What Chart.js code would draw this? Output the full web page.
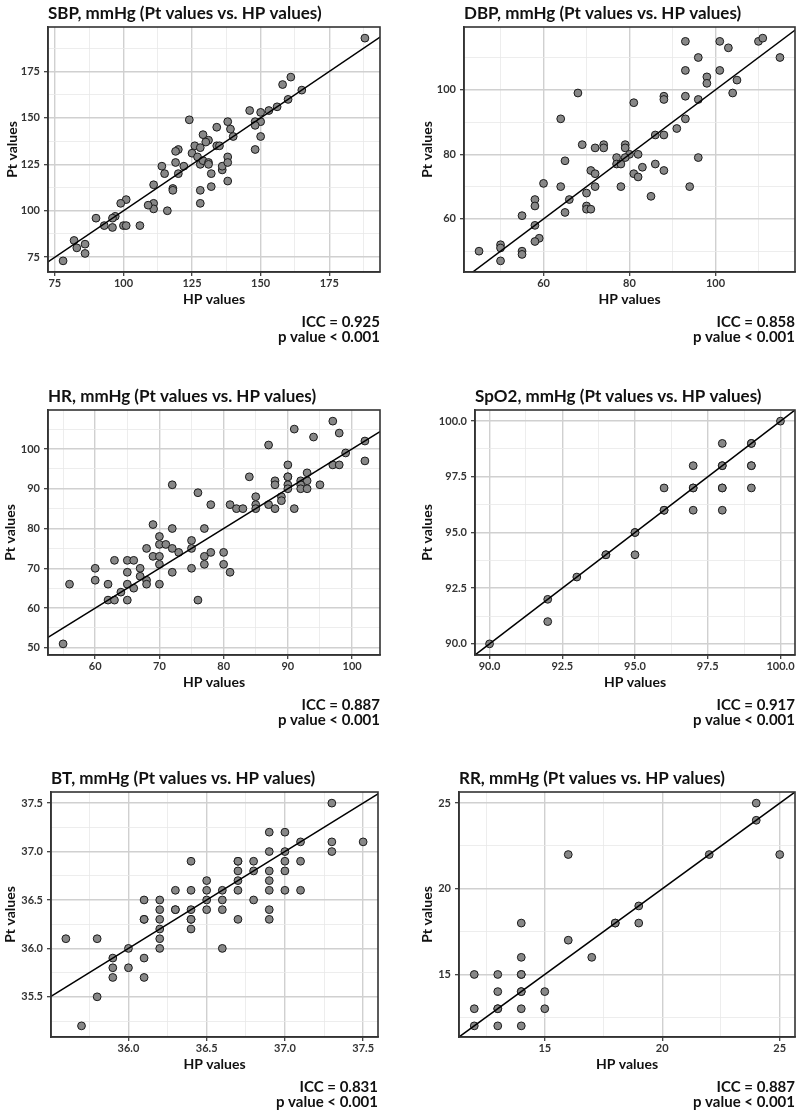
<!DOCTYPE html>
<html>
<head>
<meta charset="utf-8">
<title>Pt values vs. HP values</title>
<script src="https://cdn.jsdelivr.net/npm/chart.js@4.4.1/dist/chart.umd.min.js"></script>
<style>
  html, body { margin: 0; padding: 0; background: #fff; }
  body { width: 800px; height: 1113px; position: relative; overflow: hidden; }
  .panel { position: absolute; width: 400px; height: 348px; }
</style>
</head>
<body>
<div class="panel" style="left:0;top:0"><canvas id="sbp"></canvas></div>
<div class="panel" style="left:400px;top:0"><canvas id="dbp"></canvas></div>
<div class="panel" style="left:0;top:383px"><canvas id="hr"></canvas></div>
<div class="panel" style="left:400px;top:383px"><canvas id="spo2"></canvas></div>
<div class="panel" style="left:0;top:765px"><canvas id="bt"></canvas></div>
<div class="panel" style="left:400px;top:765px"><canvas id="rr"></canvas></div>
<script>
'use strict';

// SBP
const sbpHP = [188, 161, 158, 165, 160, 156, 153, 150, 146, 148, 150, 148, 150, 148, 138, 139, 140, 134, 124, 129,
  131, 130, 126, 128, 134, 135, 125, 127, 120, 119, 122, 119, 114, 115, 120, 128, 129, 131, 131, 132,
  132, 136, 136, 138, 138, 138, 128, 128, 118, 118, 111, 111, 111, 109, 116, 106, 101, 99, 100, 101,
  97, 96, 96, 93, 90, 82, 83, 86, 86, 78];
const sbpPt = [193, 172, 168, 165, 160, 156, 154, 153, 154, 148, 148, 146, 140, 133, 148, 144, 140, 145, 149, 141,
  138, 137, 135, 134, 135, 135, 131, 129, 133, 132, 124, 126, 124, 120, 120, 125, 127, 126, 125, 120,
  113, 122, 124, 129, 126, 116, 111, 104, 112, 111, 114, 104, 101, 103, 100, 92, 106, 104, 92, 92,
  97, 96, 91, 92, 96, 84, 80, 82, 77, 73];
const sbpXTicks = [75, 100, 125, 150, 175];
const sbpYTicks = [75, 100, 125, 150, 175];

// DBP
const dbpHP = [93, 101, 110, 111, 103, 96, 115, 93, 101, 98, 98, 105, 104, 68, 88, 88, 93, 96, 81, 64,
  93, 91, 86, 88, 69, 72, 74, 74, 79, 79, 77, 77, 78, 80, 79, 82, 65, 83, 86, 81,
  82, 88, 96, 94, 78, 71, 72, 72, 70, 70, 70, 71, 85, 64, 60, 66, 65, 58, 58, 55,
  58, 59, 58, 55, 55, 50, 50, 45, 50];
const dbpPt = [115, 115, 115, 116, 113, 110, 110, 106, 106, 104, 102, 103, 99, 99, 98, 97, 98, 97, 96, 91,
  91, 88, 86, 86, 83, 82, 83, 82, 83, 82, 79, 77, 77, 80, 79, 80, 78, 76, 77, 74,
  73, 75, 79, 70, 70, 75, 74, 70, 68, 64, 63, 63, 67, 70, 71, 66, 62, 66, 64, 61,
  58, 54, 53, 50, 49, 52, 51, 50, 47];
const dbpXTicks = [60, 80, 100];
const dbpYTicks = [60, 80, 100];

// HR
const hrHP = [97, 91, 98, 94, 102, 87, 99, 97, 98, 102, 90, 90, 90, 84, 93, 88, 88, 92, 93, 90,
  92, 95, 90, 92, 93, 72, 76, 89, 89, 85, 78, 81, 82, 83, 85, 85, 87, 88, 91, 69,
  72, 77, 70, 68, 70, 71, 72, 73, 75, 75, 78, 80, 69, 70, 77, 77, 70, 80, 75, 72,
  81, 63, 65, 66, 60, 67, 60, 65, 67, 68, 62, 65, 68, 56, 70, 66, 64, 62, 63, 65,
  76, 55];
const hrPt = [107, 105, 104, 103, 102, 101, 99, 96, 96, 97, 96, 93, 93, 93, 94, 92, 91, 92, 92, 91,
  91, 91, 90, 90, 90, 91, 89, 88, 87, 88, 86, 86, 85, 85, 86, 85, 86, 85, 85, 81,
  80, 80, 78, 75, 76, 76, 75, 74, 77, 75, 74, 74, 73, 73, 73, 71, 71, 71, 70, 69,
  69, 72, 72, 72, 70, 70, 67, 69, 68, 67, 66, 66, 66, 66, 66, 65, 64, 62, 62, 62,
  62, 51];
const hrXTicks = [60, 70, 80, 90, 100];
const hrYTicks = [50, 60, 70, 80, 90, 100];

// SpO2
const spo2HP = [90, 92, 92, 93, 94, 94, 95, 95, 95, 96, 96, 96, 97, 97, 97, 97, 98, 98, 98, 98,
  98, 98, 99, 99, 99, 99, 99, 100];
const spo2Pt = [90, 92, 91, 93, 94, 94, 95, 95, 94, 96, 96, 97, 98, 97, 97, 96, 99, 98, 98, 97,
  97, 96, 99, 99, 98, 98, 97, 100];
const spo2XTicks = [90, 92.5, 95, 97.5, 100];
const spo2YTicks = [90, 92.5, 95, 97.5, 100];

// BT
const btHP = [37.3, 36.9, 37.0, 37.1, 37.3, 37.5, 37.3, 36.9, 37.0, 36.4, 36.7, 36.7, 36.8, 37.0, 37.1, 36.7, 36.8, 36.9, 37.0, 36.5,
  36.7, 36.9, 36.3, 36.4, 36.5, 36.6, 36.7, 36.9, 37.0, 37.1, 36.1, 36.2, 36.5, 36.6, 36.8, 36.2, 36.3, 36.3, 36.4, 36.5,
  36.6, 36.9, 36.1, 36.1, 36.2, 36.4, 36.4, 36.7, 36.9, 36.2, 36.4, 35.6, 35.8, 36.2, 36.0, 36.2, 36.6, 35.9, 36.1, 35.9,
  36.0, 35.9, 36.1, 35.8, 35.7];
const btPt = [37.5, 37.2, 37.2, 37.1, 37.1, 37.1, 37.0, 37.0, 37.0, 36.9, 36.9, 36.9, 36.9, 36.9, 36.9, 36.8, 36.8, 36.8, 36.8, 36.7,
  36.7, 36.7, 36.6, 36.6, 36.6, 36.6, 36.6, 36.6, 36.6, 36.6, 36.5, 36.5, 36.5, 36.5, 36.5, 36.4, 36.4, 36.4, 36.4, 36.4,
  36.4, 36.4, 36.3, 36.3, 36.3, 36.3, 36.3, 36.3, 36.3, 36.2, 36.2, 36.1, 36.1, 36.1, 36.0, 36.0, 36.0, 35.9, 35.9, 35.8,
  35.8, 35.7, 35.7, 35.5, 35.2];
const btXTicks = [36.0, 36.5, 37.0, 37.5];
const btYTicks = [35.5, 36.0, 36.5, 37.0, 37.5];

// RR
const rrHP = [24, 24, 22, 25, 16, 19, 19, 18, 18, 14, 16, 17, 14, 12, 13, 14, 14, 13, 14, 14,
  15, 12, 13, 13, 14, 15, 12, 13, 14];
const rrPt = [25, 24, 22, 22, 22, 19, 18, 18, 18, 18, 17, 16, 16, 15, 15, 15, 15, 14, 14, 14,
  14, 13, 13, 13, 13, 13, 12, 12, 12];
const rrXTicks = [15, 20, 25];
const rrYTicks = [15, 20, 25];

const panelIds = ['sbp', 'dbp', 'hr', 'spo2', 'bt', 'rr'];
const panelTitles = [
  'SBP, mmHg (Pt values vs. HP values)',
  'DBP, mmHg (Pt values vs. HP values)',
  'HR, mmHg (Pt values vs. HP values)',
  'SpO2, mmHg (Pt values vs. HP values)',
  'BT, mmHg (Pt values vs. HP values)',
  'RR, mmHg (Pt values vs. HP values)'
];
const iccValues = ['0.925', '0.858', '0.887', '0.917', '0.831', '0.887'];
const pValueLabel = '0.001';

const hpSeries = [sbpHP, dbpHP, hrHP, spo2HP, btHP, rrHP];
const ptSeries = [sbpPt, dbpPt, hrPt, spo2Pt, btPt, rrPt];
const xTickSets = [sbpXTicks, dbpXTicks, hrXTicks, spo2XTicks, btXTicks, rrXTicks];
const yTickSets = [sbpYTicks, dbpYTicks, hrYTicks, spo2YTicks, btYTicks, rrYTicks];

// where each plot panel sits inside its canvas (left/right edge, y-axis title centre)
const frames = [
  { left: 48, right: 380, yTitle: 12 },
  { left: 64, right: 395, yTitle: 27 },
  { left: 48, right: 380, yTitle: 10 },
  { left: 75, right: 397, yTitle: 27 },
  { left: 51, right: 378, yTitle: 10 },
  { left: 59, right: 395, yTitle: 27 }
];

Chart.defaults.font.family = 'Lato, "Open Sans", sans-serif';
Chart.defaults.animation = false;

const MAJOR_GRID = '#d0d0d0';
const MINOR_GRID = '#e9e9e9';

// ggplot-like 5% expansion of the data range
function expandRange(values) {
  const lo = Math.min(...values), hi = Math.max(...values);
  const pad = (hi - lo) * 0.05;
  return [lo - pad, hi + pad];
}

// major ticks plus the minor (half-way) ticks that fall inside the range
function allTicks(major, lo, hi) {
  const step = major[1] - major[0];
  const out = [];
  const first = major[0] - step / 2;
  for (let i = 0; i <= major.length * 2; i++) {
    const v = +(first + i * step / 2).toFixed(4);
    if (v >= lo && v <= hi) out.push({ value: v, major: i % 2 === 1 });
  }
  return out;
}

function decimalsOf(major) {
  return major.some(v => Math.round(v) !== v) ? 1 : 0;
}

const panelDeco = {
  id: 'panelDeco',
  afterDraw(chart, args, opts) {
    const { ctx, chartArea: a } = chart;
    ctx.save();
    ctx.strokeStyle = '#333';
    ctx.lineWidth = 1.6;
    ctx.strokeRect(a.left, a.top, a.right - a.left, a.bottom - a.top);
    ctx.fillStyle = '#111';
    ctx.font = 'bold 15px Lato';
    ctx.textAlign = 'right';
    ctx.textBaseline = 'middle';
    ctx.fillText('ICC = ' + opts.icc, a.right, a.bottom + 50);
    ctx.fillText('p value < ' + opts.p, a.right, a.bottom + 65);
    ctx.restore();
  }
};

function axisOptions(major, range, isX, frame) {
  const ticks = allTicks(major, range[0], range[1]);
  const majorSet = new Set(ticks.filter(t => t.major).map(t => t.value));
  const isMajor = c => c.tick && majorSet.has(+c.tick.value.toFixed(4));
  const dec = decimalsOf(major);
  const opts = {
    type: 'linear',
    min: range[0],
    max: range[1],
    afterBuildTicks: axis => { axis.ticks = ticks.map(t => ({ value: t.value })); },
    ticks: {
      autoSkip: false,
      maxRotation: 0,
      padding: isX ? 1 : 4,
      color: '#333',
      font: { size: 11, weight: 'bold' },
      callback: v => majorSet.has(+(+v).toFixed(4)) ? (+v).toFixed(dec) : ''
    },
    grid: {
      drawTicks: true,
      tickLength: 4,
      color: c => isMajor(c) ? MAJOR_GRID : MINOR_GRID,
      lineWidth: c => isMajor(c) ? 1.4 : 0.8,
      tickColor: c => isMajor(c) ? '#333' : 'rgba(0,0,0,0)',
      tickWidth: 1.2
    },
    border: { display: true, color: '#333', width: 1.6 },
    title: {
      display: true,
      text: isX ? 'HP values' : 'Pt values',
      color: '#111',
      font: { size: 14, weight: 'bold' },
      padding: isX ? { top: 0, bottom: 40.6 } : { top: frame.yTitle - 8.4, bottom: 0 }
    }
  };
  if (isX) {
    opts.afterFit = s => { s.height = 76; };
  } else {
    opts.afterFit = s => { s.width = frame.left; };
  }
  return opts;
}

panelIds.forEach((id, i) => {
  const hp = hpSeries[i], pt = ptSeries[i];
  const xr = expandRange(hp), yr = expandRange(pt);
  const lo = Math.min(xr[0], yr[0]), hi = Math.max(xr[1], yr[1]);
  const frame = frames[i];

  new Chart(document.getElementById(id), {
    type: 'scatter',
    data: {
      datasets: [
        {
          // identity line (Pt = HP)
          data: [{ x: lo, y: lo }, { x: hi, y: hi }],
          showLine: true,
          borderColor: '#000',
          borderWidth: 1.5,
          pointRadius: 0,
          pointHoverRadius: 0
        },
        {
          data: hp.map((v, k) => ({ x: v, y: pt[k] })),
          pointRadius: 3.9,
          pointBackgroundColor: '#878787',
          pointBorderColor: '#1a1a1a',
          pointBorderWidth: 1
        }
      ]
    },
    options: {
      responsive: true,
      maintainAspectRatio: false,
      layout: { padding: { left: 0, right: 400 - frame.right, top: 0, bottom: 0 } },
      plugins: {
        legend: { display: false },
        tooltip: { enabled: false },
        title: {
          display: true,
          text: panelTitles[i],
          align: 'start',
          fullSize: false,
          color: '#111',
          font: { size: 17, weight: 'bold' },
          padding: { top: 3, bottom: 3.6 }
        },
        panelDeco: { icc: iccValues[i], p: pValueLabel }
      },
      scales: {
        x: axisOptions(xTickSets[i], xr, true, frame),
        y: axisOptions(yTickSets[i], yr, false, frame)
      }
    },
    plugins: [panelDeco]
  });
});
</script>
</body>
</html>
